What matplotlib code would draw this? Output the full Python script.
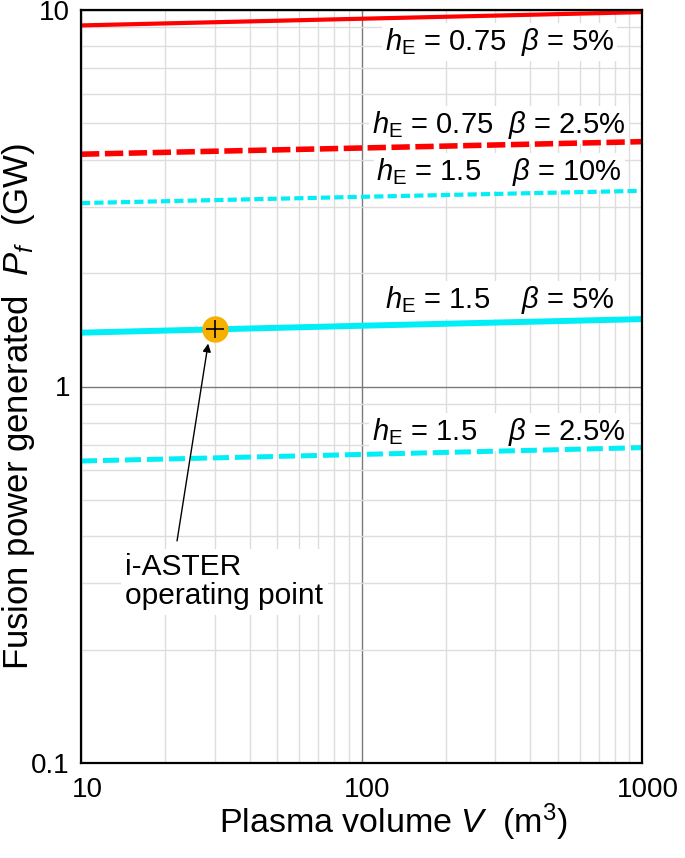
import matplotlib
matplotlib.use('Agg')
import matplotlib.pyplot as plt
import matplotlib.transforms as mtransforms
from matplotlib.ticker import LogLocator, NullFormatter, FixedLocator

plt.rcParams['font.family'] = ['Liberation Sans', 'DejaVu Sans']
plt.rcParams['mathtext.fontset'] = 'custom'
plt.rcParams['mathtext.rm'] = 'Liberation Sans'
plt.rcParams['mathtext.it'] = 'Liberation Sans:italic'
plt.rcParams['mathtext.bf'] = 'Liberation Sans:bold'

# Data (plasma volume in m^3, fusion power in GW)
volume = [10, 100, 1000]
p_h075_b5 = [9.1, 9.48, 9.87]
p_h075_b25 = [4.14, 4.30, 4.47]
p_h15_b10 = [3.07, 3.19, 3.31]
p_h15_b5 = [1.39, 1.45, 1.51]
p_h15_b25 = [0.634, 0.66, 0.688]

labels = [r'$h_\mathrm{E}$ = 0.75  $\beta$ = 5%',
          r'$h_\mathrm{E}$ = 0.75  $\beta$ = 2.5%',
          r'$h_\mathrm{E}$ = 1.5    $\beta$ = 10%',
          r'$h_\mathrm{E}$ = 1.5    $\beta$ = 5%',
          r'$h_\mathrm{E}$ = 1.5    $\beta$ = 2.5%']
label_y = [8.22, 4.95, 3.71, 1.70, 0.757]

op_volume = 30
op_power = 1.42

fig = plt.figure(figsize=(6.85, 8.58), dpi=100)
ax = fig.add_axes([81 / 685, 95 / 858, 561 / 685, 753 / 858])
ax.set_xscale('log')
ax.set_yscale('log')
ax.set_xlim(10, 1000)
ax.set_ylim(0.1, 10)

# grid
ax.xaxis.set_minor_locator(LogLocator(base=10, subs=range(2, 10)))
ax.yaxis.set_minor_locator(LogLocator(base=10, subs=range(2, 10)))
ax.xaxis.set_minor_formatter(NullFormatter())
ax.yaxis.set_minor_formatter(NullFormatter())
ax.grid(which='minor', color='#dddddd', linewidth=1.0, zorder=0)
ax.grid(which='major', color='#7a7a7a', linewidth=1.0, zorder=0)
ax.set_axisbelow(True)

ax.xaxis.set_major_locator(FixedLocator([10, 100, 1000]))
ax.yaxis.set_major_locator(FixedLocator([0.1, 1, 10]))
ax.set_xticklabels(['10', '100', '1000'])
ax.set_yticklabels(['0.1', '1', '10'])
ax.tick_params(which='both', length=0, labelsize=20)
ax.tick_params(axis='x', pad=10)
ax.tick_params(axis='y', pad=8)
# x tick labels sit a little right of their ticks in the original
shift = mtransforms.ScaledTranslation(6 / 100, 0, fig.dpi_scale_trans)
for lab in ax.get_xticklabels():
    lab.set_transform(lab.get_transform() + shift)

for s in ax.spines.values():
    s.set_linewidth(1.6)
    s.set_color('black')
    s.set_zorder(5)

red = '#ff0000'
cyan = '#00eef5'
ax.plot(volume, p_h075_b5, color=red, lw=3.0, solid_capstyle='butt', zorder=3)
ax.plot(volume, p_h075_b25, color=red, lw=4.0, dashes=(3.3, 1.0), dash_capstyle='butt', zorder=3)
ax.plot(volume, p_h15_b10, color=cyan, lw=3.0, dashes=(2.2, 1.0), dash_capstyle='butt', zorder=3)
ax.plot(volume, p_h15_b5, color=cyan, lw=4.3, solid_capstyle='butt', zorder=3)
ax.plot(volume, p_h15_b25, color=cyan, lw=3.6, dashes=(3.2, 1.2), dash_capstyle='butt', zorder=3)

for txt, yv in zip(labels, label_y):
    ax.text(310, yv, txt, fontsize=21, ha='center', va='center', zorder=2,
            bbox=dict(boxstyle='square,pad=0.1', fc='white', ec='none'))

# operating point
ax.plot([op_volume], [op_power], marker='o', ms=18, mfc='#f5b000', mec='#f5b000', zorder=4)
ax.plot([op_volume], [op_power], marker='+', ms=13, mew=1.2, color='black', zorder=4)
ax.annotate('', xy=(28.4, 1.30), xytext=(22.0, 0.389),
            arrowprops=dict(arrowstyle='-|>', color='black', lw=1.0,
                            mutation_scale=12, shrinkA=0, shrinkB=0), zorder=4)
ax.text(14.4, 0.303, 'i-ASTER\noperating point', fontsize=21.5, ha='left', va='center',
        linespacing=1.05, zorder=2,
        bbox=dict(boxstyle='square,pad=0.15', fc='white', ec='none'))

ax.set_xlabel(r'Plasma volume $V$  (m$^3$)', fontsize=24.5, va='baseline')
ax.xaxis.set_label_coords(0.556, -0.0925)
ax.set_ylabel(r'Fusion power generated  $P_f$  (GW)', fontsize=25, va='center')
ax.yaxis.set_label_coords(-0.112, 0.474)

plt.savefig('out.png', dpi=100)
